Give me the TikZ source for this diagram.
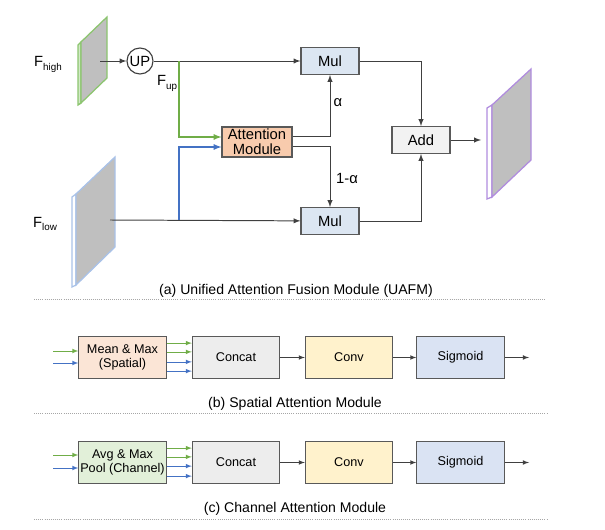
\documentclass[tikz,border=0pt]{standalone}
\usepackage{fontspec}
\setmainfont{Liberation Sans}
\usepackage{xcolor}
\usepackage{tikz}
\definecolor{linegray}{HTML}{404040}
\definecolor{boxgray}{HTML}{595959}
\definecolor{mulblue}{HTML}{DCE6F2}
\definecolor{addgray}{HTML}{F2F2F2}
\definecolor{attorange}{HTML}{F8CBAD}
\definecolor{meanorange}{HTML}{FBE5D6}
\definecolor{concatgray}{HTML}{EDEDED}
\definecolor{convyellow}{HTML}{FFF2CC}
\definecolor{sigblue}{HTML}{DAE3F3}
\definecolor{poolgreen}{HTML}{E2F0D9}
\definecolor{highgreen}{HTML}{8CC56F}
\definecolor{lowblue}{HTML}{A9C2E8}
\definecolor{outpurple}{HTML}{B08CDE}
\definecolor{flowgreen}{HTML}{70AD47}
\definecolor{flowblue}{HTML}{4472C4}
\definecolor{plategray}{HTML}{BFBFBF}
\newcommand{\lowidx}[1]{\raisebox{-0.5ex}{\fontsize{7}{7}\selectfont #1}}

\begin{document}
\begin{tikzpicture}[x=0.025cm,y=-0.025cm,
  box/.style={rectangle,draw=boxgray,line width=0.8pt,inner sep=0pt,
    align=center,font=\fontsize{10.5}{10.5}\selectfont},
  small/.style={box,minimum width=1.45cm,minimum height=0.67cm},
  wide/.style={box,minimum width=2.18cm,minimum height=1.05cm,
    font=\fontsize{9}{10.5}\selectfont},
  arr/.style={->,>=latex,line width=0.7pt},
  thin/.style={->,>=latex,line width=0.5pt},
  caption/.style={font=\fontsize{10}{12}\selectfont},
  sep/.style={densely dotted,draw=gray!70,line width=0.5pt},
  plate/.style={line width=0.9pt}]

  \useasboundingbox (0,0) rectangle (605,530);

  % (a) UAFM
  \filldraw[plate,draw=highgreen,fill=highgreen!40] (78,45) -- (81,42) -- (81,103) -- (78,105) -- cycle;
  \filldraw[plate,draw=highgreen,fill=plategray] (81,42) -- (107,17) -- (107,78) -- (81,103) -- cycle;
  \filldraw[plate,draw=lowblue,fill=white] (72,197) -- (76,194) -- (76,285) -- (72,287) -- cycle;
  \filldraw[plate,draw=lowblue,fill=plategray] (76,194) -- (115,157) -- (115,247) -- (76,285) -- cycle;
  \filldraw[plate,draw=outpurple,fill=white] (487,108) -- (492,105) -- (492,197) -- (487,199) -- cycle;
  \filldraw[plate,draw=outpurple,fill=plategray] (492,105) -- (531,69) -- (531,160) -- (492,197) -- cycle;

  \node[font=\fontsize{10.5}{10.5}\selectfont] (lhigh) at (48,64) {F\lowidx{high}};
  \node[font=\fontsize{10.5}{10.5}\selectfont] (llow) at (45,224) {F\lowidx{low}};
  \node[font=\fontsize{10.5}{10.5}\selectfont] (lup) at (167,83) {F\lowidx{up}};

  \coordinate (fhigh) at (100,61);
  \coordinate (flow) at (110,220);
  \coordinate (bup) at (179,61);
  \coordinate (blow) at (179,220);
  \coordinate (fout) at (481,140);

  \node[circle,draw=linegray,line width=0.8pt,minimum size=0.65cm,inner sep=0pt,
    font=\fontsize{10.5}{10.5}\selectfont] (up) at (140,61) {UP};
  \node[small,fill=mulblue] (multop) at (330,61) {Mul};
  \node[box,fill=attorange,minimum width=1.75cm,minimum height=0.75cm] (att) at (257,142) {Attention\\Module};
  \node[small,fill=mulblue] (mulbot) at (330,221) {Mul};
  \node[small,fill=addgray] (add) at (421,140) {Add};

  \draw[arr,color=linegray] (fhigh) -- (up);
  \draw[arr,color=linegray] (up) -- (multop);
  \draw[arr,color=linegray] (flow) -- (mulbot);
  \draw[arr,color=flowgreen,line width=0.9pt] (bup) |- ([yshift=0.125cm]att.west);
  \draw[arr,color=flowblue,line width=0.9pt] (blow) |- ([yshift=-0.125cm]att.west);
  \draw[arr,color=linegray] ([yshift=0.15cm]att.east) -| (multop);
  \draw[arr,color=linegray] ([yshift=-0.1cm]att.east) -| (mulbot);
  \draw[arr,color=linegray] (multop) -| (add);
  \draw[arr,color=linegray] (mulbot) -| (add);
  \draw[arr,color=linegray] (add) -- (fout);

  \node[font=\fontsize{10.5}{10.5}\selectfont] (alpha) at (338,103) {α};
  \node[font=\fontsize{10.5}{10.5}\selectfont] (oneminus) at (347,178) {1-α};

  \node[caption] (capa) at (296,291) {(a) Unified Attention Fusion Module (UAFM)};
  \draw[sep] (34,299) -- (545,299);

  % (b) spatial attention
  \node[wide,fill=meanorange] (meanmax) at (122.5,357.5) {Mean \& Max\\(Spatial)};
  \node[wide,fill=concatgray] (concatb) at (236,357.5) {Concat};
  \node[wide,fill=convyellow] (convb) at (349,357.5) {Conv};
  \node[wide,fill=sigblue] (sigb) at (460.5,357.5) {Sigmoid};
  \coordinate (ingb) at (53,351);
  \coordinate (inbb) at (53,363);
  \coordinate (outb) at (529,357.5);

  \draw[thin,flowgreen] (ingb) -- (ingb -| meanmax.west);
  \draw[thin,flowblue] (inbb) -- (inbb -| meanmax.west);
  \foreach \dy/\col in {0.36/flowgreen,0.14/flowgreen,-0.11/flowblue,-0.34/flowblue}
    \draw[thin,\col] ([yshift=\dy cm]meanmax.east) -- ([yshift=\dy cm]concatb.west);
  \draw[thin,linegray] (concatb) -- (convb);
  \draw[thin,linegray] (convb) -- (sigb);
  \draw[thin,linegray] (sigb) -- (outb);

  \node[caption] (capb) at (295,404) {(b) Spatial Attention Module};
  \draw[sep] (34,413) -- (548,413);

  % (c) channel attention
  \node[wide,fill=poolgreen] (pool) at (122.5,462.5) {Avg \& Max\\Pool (Channel)};
  \node[wide,fill=concatgray] (concatc) at (236,462.5) {Concat};
  \node[wide,fill=convyellow] (convc) at (349,462.5) {Conv};
  \node[wide,fill=sigblue] (sigc) at (460.5,462.5) {Sigmoid};
  \coordinate (ingc) at (53,455);
  \coordinate (inbc) at (53,468);
  \coordinate (outc) at (529,462.5);

  \draw[thin,flowgreen] (ingc) -- (ingc -| pool.west);
  \draw[thin,flowblue] (inbc) -- (inbc -| pool.west);
  \foreach \dy/\col in {0.36/flowgreen,0.14/flowgreen,-0.09/flowblue,-0.34/flowblue}
    \draw[thin,\col] ([yshift=\dy cm]pool.east) -- ([yshift=\dy cm]concatc.west);
  \draw[thin,linegray] (concatc) -- (convc);
  \draw[thin,linegray] (convc) -- (sigc);
  \draw[thin,linegray] (sigc) -- (outc);

  \node[caption] (capc) at (295,509) {(c) Channel Attention Module};
  \draw[sep] (34,519) -- (548,519);
\end{tikzpicture}
\end{document}
